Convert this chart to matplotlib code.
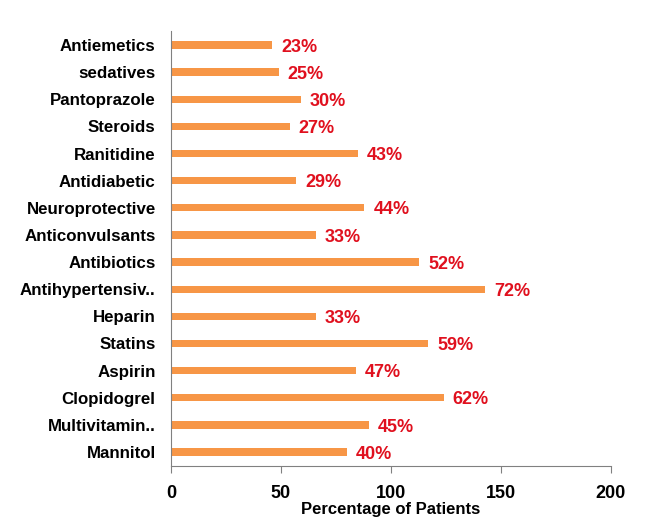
import matplotlib
matplotlib.use('Agg')
import matplotlib.pyplot as plt

plt.rcParams['font.family'] = ['Liberation Sans', 'DejaVu Sans']

drugs = ['Antiemetics', 'sedatives', 'Pantoprazole', 'Steroids', 'Ranitidine',
         'Antidiabetic', 'Neuroprotective', 'Anticonvulsants', 'Antibiotics',
         'Antihypertensiv..', 'Heparin', 'Statins', 'Aspirin', 'Clopidogrel',
         'Multivitamin..', 'Mannitol']
counts = [46, 49, 59, 54, 85, 57, 88, 66, 113, 143, 66, 117, 84, 124, 90, 80]
percents = ['23%', '25%', '30%', '27%', '43%', '29%', '44%', '33%', '52%',
            '72%', '33%', '59%', '47%', '62%', '45%', '40%']

fig = plt.figure(figsize=(6.45, 5.21), dpi=100)
ax = fig.add_axes([0.265, 0.1063, 0.682, 0.8334])

pos = list(range(len(drugs)))
ax.barh(pos, counts, height=0.27, color='#F79646')
for p, c, t in zip(pos, counts, percents):
    ax.text(c + 4, p + 0.08, t, color='#E0101E', fontsize=13, fontweight='bold',
            va='center', ha='left')

ax.set_ylim(len(drugs) - 0.5, -0.5)
ax.set_xlim(0, 200)
ax.set_yticks(pos)
ax.set_yticklabels(drugs, fontsize=12.2, fontweight='bold')
ax.set_xticks([0, 50, 100, 150, 200])
ax.tick_params(axis='y', length=0, pad=11)
ax.tick_params(axis='x', length=5, color='#808080', labelsize=13, pad=9)
for lab in ax.get_xticklabels():
    lab.set_fontweight('bold')
ax.set_xlabel('Percentage of Patients', fontsize=12, fontweight='bold', labelpad=0)

for s in ['top', 'right']:
    ax.spines[s].set_visible(False)
ax.spines['left'].set_color('#808080')
ax.spines['bottom'].set_color('#808080')

fig.savefig('out.png', dpi=100)
